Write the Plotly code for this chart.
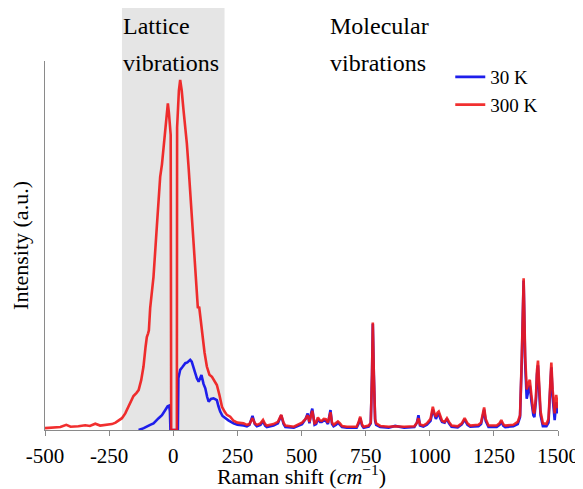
import plotly.graph_objects as go

# ---------------- data ----------------
red_x = [-500, -470, -440, -417, -400, -370, -343, -325, -304, -285, -260, -239, -225, -213, -200,
         -187, -175, -168, -155, -144, -135, -125, -116, -108, -103, -98, -95, -90, -77, -64, -55,
         -51, -44, -38, -31, -25, -21, -17, -14, -10, -8, 12, 14, 15, 22, 27, 33, 40, 47, 53, 60,
         66, 72, 79, 86, 92, 96, 101, 106, 112, 122, 131, 141, 151, 160, 170, 180, 190, 200, 209,
         222, 235, 250, 274, 287, 297, 309, 318, 326, 340, 350, 358, 365, 391, 408, 421, 430, 437,
         470, 502, 516, 524, 531, 537, 542, 551, 557, 564, 572, 579, 587, 595, 603, 613, 619, 625,
         635, 642, 650, 658, 677, 715, 722, 729, 736, 742, 762, 770, 775, 778, 782, 787, 791, 807,
         840, 865, 900, 940, 950, 956, 962, 975, 989, 1003, 1012, 1018, 1024, 1030, 1035, 1042,
         1048, 1058, 1067, 1075, 1085, 1109, 1125, 1136, 1147, 1158, 1190, 1200, 1208, 1212, 1218,
         1229, 1261, 1272, 1279, 1287, 1294, 1326, 1343, 1352, 1359, 1366, 1372, 1378, 1384, 1390,
         1397, 1404, 1408, 1414, 1418, 1422, 1427, 1432, 1441, 1455, 1463, 1469, 1474, 1479, 1484,
         1487, 1493, 1497, 1500]
red_y = [0.005, 0.007, 0.008, 0.014, 0.009, 0.010, 0.013, 0.011, 0.017, 0.012, 0.015, 0.016, 0.020,
         0.026, 0.032, 0.045, 0.062, 0.072, 0.092, 0.100, 0.108, 0.135, 0.172, 0.225, 0.252, 0.262,
         0.270, 0.330, 0.415, 0.551, 0.640, 0.686, 0.720, 0.759, 0.822, 0.860, 0.885, 0.860, 0.840,
         0.800, 0.000, 0.000, 0.000, 0.820, 0.920, 0.949, 0.920, 0.867, 0.820, 0.777, 0.710, 0.641,
         0.575, 0.506, 0.420, 0.343, 0.330, 0.334, 0.300, 0.262, 0.210, 0.172, 0.150, 0.144, 0.135,
         0.122, 0.095, 0.063, 0.050, 0.041, 0.036, 0.025, 0.020, 0.018, 0.014, 0.016, 0.032, 0.018,
         0.014, 0.018, 0.027, 0.016, 0.012, 0.016, 0.022, 0.041, 0.020, 0.012, 0.009, 0.020, 0.030,
         0.040, 0.022, 0.040, 0.052, 0.018, 0.020, 0.034, 0.026, 0.025, 0.030, 0.029, 0.020, 0.048,
         0.020, 0.014, 0.018, 0.023, 0.018, 0.011, 0.009, 0.009, 0.020, 0.036, 0.015, 0.009, 0.012,
         0.020, 0.150, 0.291, 0.150, 0.030, 0.018, 0.011, 0.009, 0.010, 0.009, 0.010, 0.020, 0.032,
         0.015, 0.012, 0.018, 0.030, 0.063, 0.045, 0.036, 0.047, 0.050, 0.035, 0.025, 0.022, 0.032,
         0.022, 0.012, 0.010, 0.018, 0.032, 0.018, 0.012, 0.014, 0.020, 0.050, 0.061, 0.030, 0.012,
         0.012, 0.018, 0.027, 0.015, 0.012, 0.014, 0.022, 0.040, 0.200, 0.411, 0.200, 0.110, 0.125,
         0.136, 0.090, 0.050, 0.045, 0.090, 0.160, 0.188, 0.120, 0.050, 0.018, 0.016, 0.030, 0.120,
         0.183, 0.110, 0.050, 0.045, 0.095, 0.080, 0.059]

blue_x = [-135, -115, -90, -77, -57, -44, -31, -22, -16, -13, -11, 18, 20, 27, 35, 47, 55, 66, 72,
          80, 86, 92, 99, 104, 110, 118, 125, 132, 138, 147, 157, 165, 170, 176, 183, 192, 203, 215,
          235, 250, 274, 287, 297, 309, 318, 326, 340, 350, 358, 365, 391, 408, 421, 430, 437, 470,
          502, 516, 524, 531, 537, 542, 551, 557, 564, 572, 579, 587, 595, 603, 613, 619, 625, 635,
          642, 650, 658, 677, 715, 722, 729, 736, 742, 762, 770, 775, 778, 782, 787, 791, 807, 840,
          865, 900, 940, 950, 956, 962, 975, 989, 1003, 1012, 1018, 1024, 1030, 1035, 1042, 1048,
          1058, 1067, 1075, 1085, 1109, 1125, 1136, 1147, 1158, 1190, 1200, 1208, 1212, 1218, 1229,
          1261, 1272, 1279, 1287, 1294, 1326, 1343, 1352, 1359, 1366, 1372, 1378, 1384, 1390, 1397,
          1404, 1408, 1414, 1418, 1422, 1427, 1432, 1441, 1455, 1463, 1469, 1474, 1479, 1484, 1487,
          1493, 1497, 1500]
blue_y = [0.000, 0.005, 0.014, 0.018, 0.032, 0.040, 0.054, 0.064, 0.066, 0.050, 0.000, 0.000,
          0.140, 0.163, 0.170, 0.181, 0.183, 0.190, 0.185, 0.165, 0.154, 0.140, 0.131, 0.140, 0.149,
          0.125, 0.113, 0.090, 0.077, 0.084, 0.086, 0.083, 0.081, 0.065, 0.050, 0.038, 0.032, 0.026,
          0.018, 0.014, 0.012, 0.010, 0.014, 0.038, 0.016, 0.010, 0.014, 0.024, 0.012, 0.008, 0.012,
          0.018, 0.040, 0.016, 0.008, 0.006, 0.016, 0.030, 0.045, 0.018, 0.045, 0.058, 0.014, 0.016,
          0.030, 0.022, 0.022, 0.026, 0.025, 0.016, 0.054, 0.016, 0.010, 0.014, 0.020, 0.014, 0.008,
          0.006, 0.006, 0.016, 0.032, 0.012, 0.006, 0.009, 0.018, 0.150, 0.288, 0.150, 0.025, 0.014,
          0.008, 0.006, 0.011, 0.006, 0.008, 0.020, 0.040, 0.012, 0.009, 0.014, 0.025, 0.055, 0.040,
          0.030, 0.040, 0.045, 0.030, 0.022, 0.020, 0.030, 0.018, 0.009, 0.007, 0.015, 0.028, 0.014,
          0.009, 0.010, 0.016, 0.045, 0.055, 0.025, 0.008, 0.008, 0.014, 0.022, 0.011, 0.008, 0.010,
          0.016, 0.035, 0.190, 0.405, 0.180, 0.085, 0.105, 0.120, 0.075, 0.040, 0.035, 0.080, 0.150,
          0.175, 0.100, 0.040, 0.010, 0.010, 0.020, 0.100, 0.170, 0.090, 0.035, 0.027, 0.075, 0.060,
          0.045]

series_names = ["30 K", "300 K"]
lattice_range = [-200, 200]
tick_vals = [-500, -250, 0, 250, 500, 750, 1000, 1250, 1500]
tick_text = ["-500", "-250", "0", "250", "500", "750", "1000", "1250", "1500"]

FONT = "'Liberation Serif', 'Times New Roman', Times, serif"

fig = go.Figure()
fig.add_trace(go.Scatter(x=blue_x, y=blue_y, mode="lines", name=series_names[0],
                         line=dict(color="rgb(30,30,235)", width=2.6)))
fig.add_trace(go.Scatter(x=red_x, y=red_y, mode="lines", name=series_names[1],
                         line=dict(color="rgb(240,25,25)", width=2.6), opacity=0.9))

fig.add_shape(type="rect", xref="x", yref="paper", x0=lattice_range[0], x1=lattice_range[1],
              y0=0, y1=1.152, fillcolor="#e5e5e5", line_width=0, layer="below")

ann_font = dict(family=FONT, size=24, color="black")
fig.add_annotation(text="Lattice", xref="x", yref="paper", x=-203, y=1.095, xanchor="left",
                   yanchor="middle", showarrow=False, font=ann_font)
fig.add_annotation(text="vibrations", xref="x", yref="paper", x=-203, y=0.994, xanchor="left",
                   yanchor="middle", showarrow=False, font=ann_font)
fig.add_annotation(text="Molecular", xref="x", yref="paper", x=605, y=1.095, xanchor="left",
                   yanchor="middle", showarrow=False, font=ann_font)
fig.add_annotation(text="vibrations", xref="x", yref="paper", x=605, y=0.994, xanchor="left",
                   yanchor="middle", showarrow=False, font=ann_font)

# the page adds an 8px body margin, so the figure is sized to fit the window from (8, 8)
fig.update_layout(
    width=575, height=481,
    margin=dict(l=37, r=25, t=53, b=59),
    paper_bgcolor="white", plot_bgcolor="white",
    font=dict(family=FONT, color="black"),
    showlegend=True,
    legend=dict(x=0.79, y=1.008, xanchor="left", yanchor="top", bgcolor="rgba(0,0,0,0)",
                font=dict(family=FONT, size=19), tracegroupgap=0, itemwidth=30),
    xaxis=dict(range=[-500, 1500], tickvals=tick_vals, ticktext=tick_text, automargin=False,
               showline=True, linecolor="#8a8a8a", linewidth=1, ticks="outside",
               tickcolor="#8a8a8a", ticklen=5, showgrid=False, zeroline=False,
               ticklabelstandoff=2,
               tickfont=dict(family=FONT, size=21),
               title=dict(text="Raman shift (<i>cm</i><sup>−1</sup>)",
                          font=dict(family=FONT, size=22))),
    yaxis=dict(range=[0, 1], showline=True, linecolor="#8a8a8a", linewidth=1, automargin=False,
               showticklabels=False, ticks="", showgrid=False, zeroline=False,
               title=dict(text="Intensity (a.u.)", font=dict(family=FONT, size=22), standoff=10)),
)

fig.write_html("out.html")
